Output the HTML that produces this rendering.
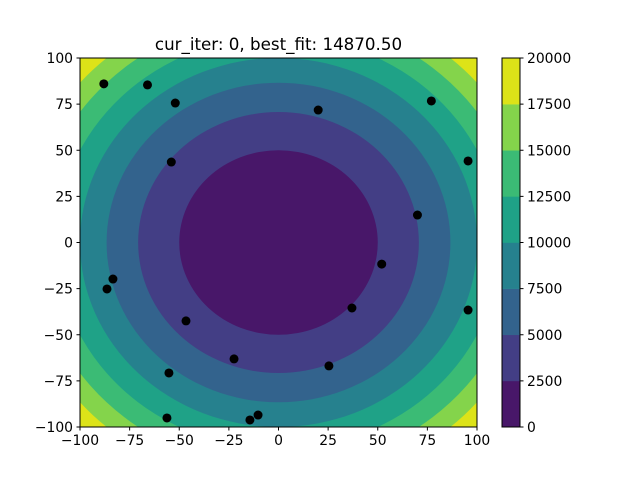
<!DOCTYPE html>
<html><head><meta charset="utf-8"><style>
body{margin:0;background:#fff;font-family:"Liberation Sans","DejaVu Sans",sans-serif;}
svg text{font-family:"DejaVu Sans","Liberation Sans",sans-serif;font-size:13.9px;fill:#000}
</style></head><body>
<svg id="chart" width="640" height="480" xmlns="http://www.w3.org/2000/svg">
<defs><clipPath id="ax"><rect x="80" y="58" width="397" height="369"/></clipPath></defs>
<g id="contours" clip-path="url(#ax)"></g>
<g id="points" clip-path="url(#ax)"></g>
<rect x="80" y="58" width="397" height="369" fill="none" stroke="#000" stroke-width="1"/>
<g id="xticks"></g>
<g id="yticks"></g>
<text x="278.5" y="50" text-anchor="middle" style="font-size:16.7px">cur_iter: 0, best_fit: 14870.50</text>
<g id="cbar"></g>
</svg>
<script>
const levels=[0,2500,5000,7500,10000,12500,15000,17500,20000];
const bandColors=["#481769","#433e85","#33638d","#26818e","#1fa287","#3bbb75","#84d44b","#dde318"];
const xs=[-88,-66,-52,-54,20,77,95.5,70,52,37,95.5,25.4,-22.4,-46.6,-83.4,-86.4,-55.2,-56.2,-14.4,-10.3];
const ys=[86,85.4,75.6,43.6,71.8,76.7,44.2,14.9,-11.7,-35.5,-36.6,-66.9,-63.1,-42.5,-19.8,-25.2,-70.7,-95.1,-96.2,-93.5];
const xTicks=[-100,-75,-50,-25,0,25,50,75,100];
const yTicks=[-100,-75,-50,-25,0,25,50,75,100];
const NS="http://www.w3.org/2000/svg";
const X0=80,X1=477,Y0=58,Y1=427;
const sx=v=>X0+(v+100)/200*(X1-X0);
const sy=v=>Y1-(v+100)/200*(Y1-Y0);
function mk(t,a,p){const e=document.createElementNS(NS,t);for(const k in a)e.setAttribute(k,a[k]);p.appendChild(e);return e;}
const cg=document.getElementById('contours');
let bg=mk('rect',{x:X0,y:Y0,width:X1-X0,height:Y1-Y0,fill:bandColors[7]},cg);


for(let i=6;i>=0;i--){const r=Math.sqrt(levels[i+1]);
 const e=mk('ellipse',{cx:sx(0),cy:sy(0),rx:sx(r)-sx(0),ry:sy(0)-sy(r),fill:bandColors[i]},cg);
 
 }
const pg=document.getElementById('points');
xs.forEach((x,i)=>{const c=mk('circle',{cx:sx(x),cy:sy(ys[i]),r:4.5,fill:'#000'},pg);
 
 });
const xg=document.getElementById('xticks');
xTicks.forEach(v=>{mk('line',{x1:sx(v),x2:sx(v),y1:Y1,y2:Y1+3.5,stroke:'#000'},xg);
 const t=mk('text',{x:sx(v),y:Y1+18,'text-anchor':'middle'},xg);t.textContent=String(v).replace('-','\u2212');
 
 });
const yg=document.getElementById('yticks');
yTicks.forEach(v=>{mk('line',{x1:X0-3.5,x2:X0,y1:sy(v),y2:sy(v),stroke:'#000'},yg);
 const t=mk('text',{x:X0-7,y:sy(v)+5,'text-anchor':'end'},yg);t.textContent=String(v).replace('-','\u2212');
 
 });
const cb=document.getElementById('cbar');
const CX0=502,CX1=520;
const cy=v=>Y1-(v-levels[0])/(levels[8]-levels[0])*(Y1-Y0);
bandColors.forEach((c,i)=>{const r=mk('rect',{x:CX0,y:cy(levels[i+1]),width:CX1-CX0,height:cy(levels[i])-cy(levels[i+1])+0.3,fill:c},cb);
 
 });
mk('rect',{x:CX0,y:Y0,width:CX1-CX0,height:Y1-Y0,fill:'none',stroke:'#000'},cb);
levels.forEach(v=>{mk('line',{x1:CX1,x2:CX1+3.5,y1:cy(v),y2:cy(v),stroke:'#000'},cb);
 const t=mk('text',{x:CX1+7,y:cy(v)+5},cb);t.textContent=v;
 
 });
</script>
</body></html>
